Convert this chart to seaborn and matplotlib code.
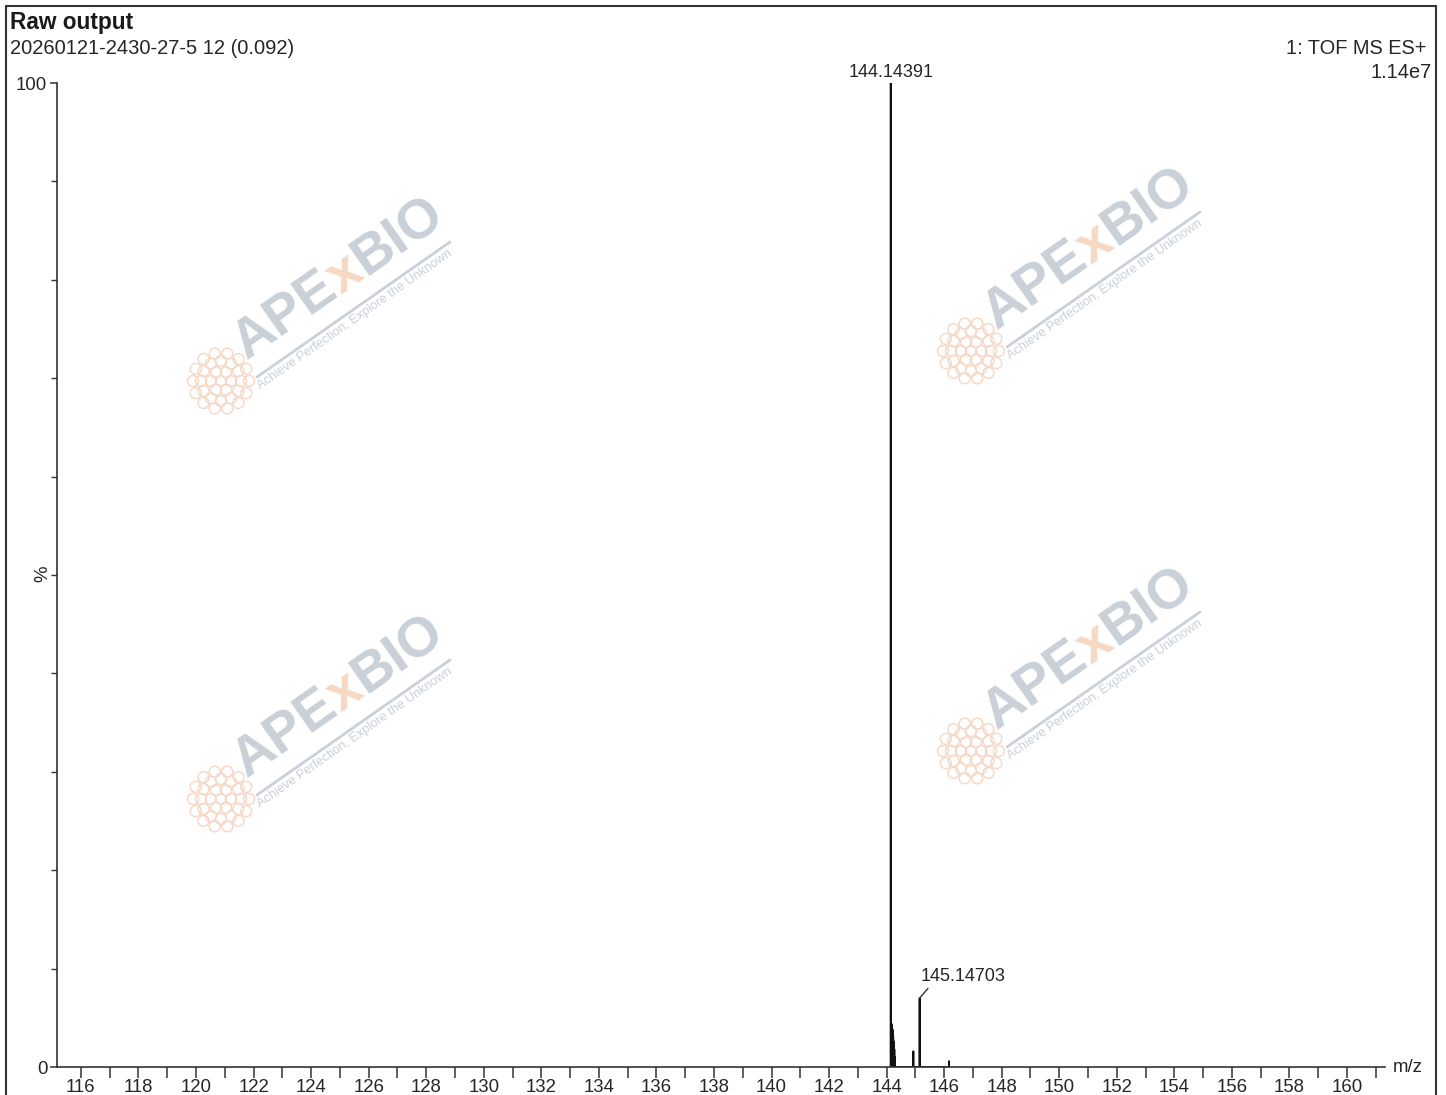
import numpy as np
import pandas as pd
import matplotlib
matplotlib.use("Agg")
import matplotlib.pyplot as plt
from matplotlib.patches import Rectangle, Circle
from matplotlib.lines import Line2D
import seaborn as sns

# ---------------- data ----------------
mz_values = [144.14391, 144.17, 144.19, 144.21, 144.23, 144.25, 144.27, 144.29,
             144.93, 145.14703, 146.17]
intensity_pct = [100.0, 4.4, 4.2, 3.8, 3.2, 2.6, 1.8, 1.0,
                 1.6, 7.0, 0.6]
labeled_peaks = ["144.14391", "145.14703"]
x_major_ticks = list(range(116, 161, 2))
x_minor_ticks = list(range(117, 162, 2))
y_ticks = [0, 100]
y_minor_ticks = list(range(10, 100, 10))

title = "Raw output"
sample = "20260121-2430-27-5 12 (0.092)"
function = "1: TOF MS ES+"
base_intensity = "1.14e7"

# ---------------- style ----------------
sns.set_style("white")
plt.rcParams["font.family"] = ["Liberation Sans", "DejaVu Sans"]
TXT = "#262626"
AX = "#333333"

W, H = 1446, 1095
fig = plt.figure(figsize=(W / 100, H / 100), dpi=100)

def fx(px):
    return px / W

def fy(py):
    return 1 - py / H

ax = fig.add_axes([fx(57), fy(1067), fx(1385) - fx(57), fy(83) - fy(1067)])
ax.patch.set_alpha(0)

# stick profile built from the peak list
eps = 0.004
prof_x, prof_y = [], []
for m, h in sorted(zip(mz_values, intensity_pct)):
    prof_x += [m - eps, m, m + eps]
    prof_y += [0, h, 0]
df = pd.DataFrame({"mz": prof_x, "pct": prof_y})
sns.lineplot(data=df, x="mz", y="pct", sort=False, estimator=None,
             color="#111111", linewidth=1.3, ax=ax)

ax.set_xlim(115.17, 161.32)
ax.set_ylim(0, 100)
ax.set_xlabel("")
ax.set_ylabel("")
for s in ["top", "right"]:
    ax.spines[s].set_visible(False)
for s in ["left", "bottom"]:
    ax.spines[s].set_color(AX)
    ax.spines[s].set_linewidth(1.2)

ax.set_xticks(x_major_ticks)
ax.set_xticks(x_minor_ticks, minor=True)
ax.set_yticks(y_ticks)
ax.set_yticks(y_minor_ticks, minor=True)
ax.tick_params(axis="x", which="both", bottom=True, direction="out", length=8,
               width=1.1, color=AX, labelsize=13.4, labelcolor=TXT, pad=1)
ax.tick_params(axis="y", which="major", left=True, direction="out", length=5,
               width=1.1, color=AX, labelsize=13.4, labelcolor=TXT, pad=2)
ax.tick_params(axis="y", which="minor", left=True, direction="out", length=4,
               width=1.0, color=AX)

# peak labels
ax.annotate(labeled_peaks[0], xy=(mz_values[0], intensity_pct[0]),
            xytext=(0, 2), textcoords="offset pixels", ha="center", va="bottom",
            fontsize=13, color=TXT)
i2 = 9
ax.annotate(labeled_peaks[1], xy=(mz_values[i2], intensity_pct[i2]),
            xytext=(1, 13), textcoords="offset pixels", ha="left", va="bottom",
            fontsize=13, color=TXT,
            arrowprops=dict(arrowstyle="-", color=AX, lw=1.0, shrinkA=0,
                            shrinkB=0, relpos=(0.12, 0.0)))

# axis texts
fig.text(fx(1393), fy(1068), "m/z", ha="left", va="center", fontsize=13.4, color=TXT)
fig.text(fx(43), fy(574), "%", ha="center", va="center", rotation=90,
         fontsize=13.4, color=TXT)

# header texts
fig.text(fx(10), fy(22), title, ha="left", va="center", fontsize=16.3,
         fontweight="bold", color="#1a1a1a")
fig.text(fx(10), fy(49), sample, ha="left", va="center", fontsize=14.5, color=TXT)
fig.text(fx(1427), fy(49), function, ha="right", va="center", fontsize=14.4, color=TXT)
fig.text(fx(1432), fy(72), base_intensity, ha="right", va="center", fontsize=14.4, color=TXT)

# frame
fig.patches.append(Rectangle((fx(6), -0.02), fx(1436) - fx(6), fy(6) + 0.02,
                             transform=fig.transFigure, fill=False,
                             edgecolor=AX, linewidth=1.5))

# watermarks
renderer = fig.canvas.get_renderer()
GRAY = "#c9d0d7"
ORANGE = "#f6d8c3"
ang = np.deg2rad(35)
direc = np.array([np.cos(ang), -np.sin(ang)])

def watermark(dx, dy):
    cur = np.array([247.0 + dx, 360.0 + dy])
    for part, col in [("APE", GRAY), ("x", ORANGE), ("BIO", GRAY)]:
        fig.text(fx(cur[0]), fy(cur[1]), part, rotation=35, rotation_mode="anchor",
                 ha="left", va="baseline", fontsize=40, fontweight="bold",
                 color=col)
        tmp = fig.text(0, 0, part, fontsize=40, fontweight="bold")
        w = tmp.get_window_extent(renderer).width
        tmp.remove()
        cur = cur + w * direc
    fig.lines.append(Line2D([fx(257 + dx), fx(450 + dx)], [fy(377 + dy), fy(242 + dy)],
                            transform=fig.transFigure, color=GRAY, lw=2))
    fig.text(fx(260 + dx), fy(390 + dy), "Achieve Perfection, Explore the Unknown",
             rotation=35, rotation_mode="anchor", ha="left", va="baseline",
             fontsize=9.2, color=GRAY)
    # flower logo
    cx, cy = 221 + dx, 381 + dy
    for r, n in [(0, 1), (10, 6), (20, 12), (28, 14)]:
        for k in range(n):
            a = 2 * np.pi * k / n
            px, py = cx + r * np.cos(a), cy + r * np.sin(a)
            fig.patches.append(Circle((px / 100, (H - py) / 100), 0.055,
                                      transform=fig.dpi_scale_trans, fill=False,
                                      edgecolor="#f6d6c4", lw=1.0))

for dx, dy in [(0, 0), (750, -30), (0, 418), (750, 370)]:
    watermark(dx, dy)

fig.savefig("out.png", dpi=100)
